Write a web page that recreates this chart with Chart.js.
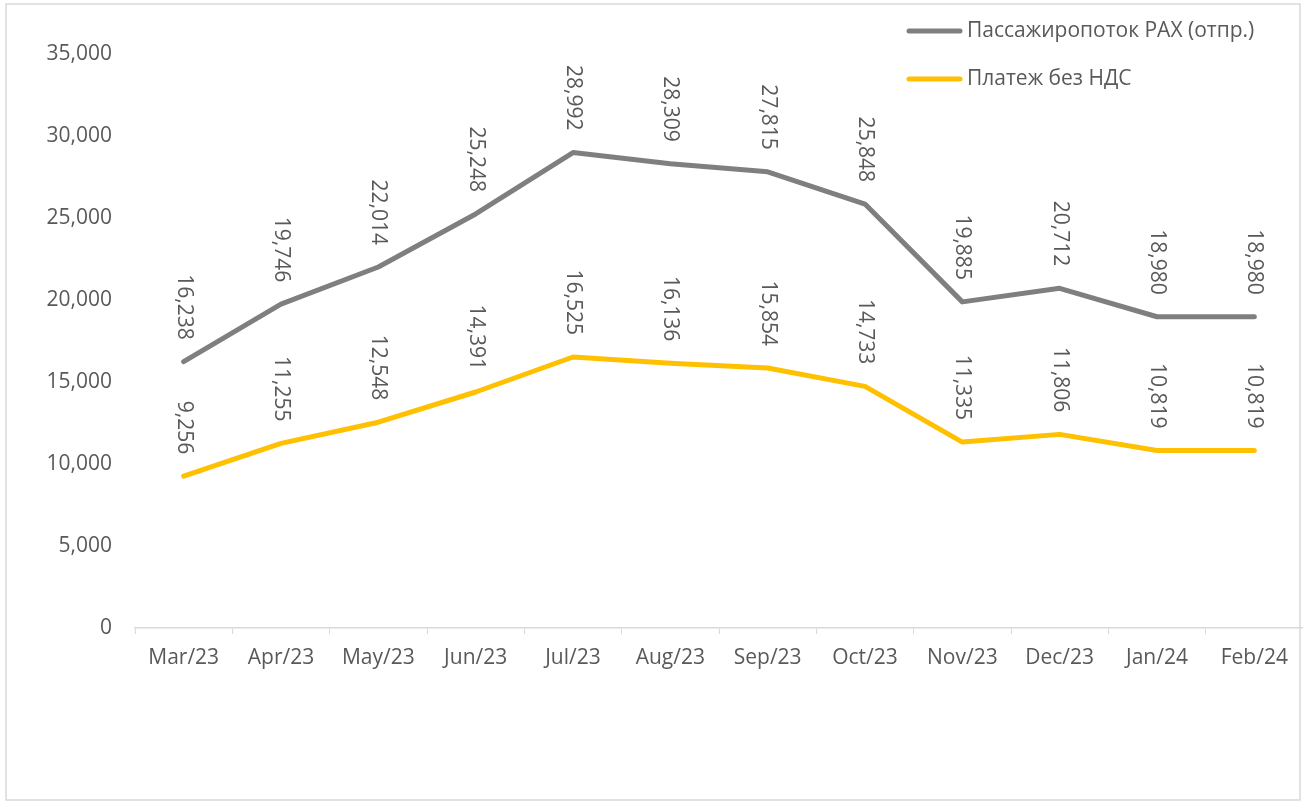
<!DOCTYPE html>
<html>
<head>
<meta charset="utf-8">
<script src="https://cdn.jsdelivr.net/npm/chart.js@4/dist/chart.umd.min.js"></script>
<style>
  html, body { margin: 0; padding: 0; background: #fff; }
  #wrap { width: 1303px; height: 803px; position: relative; }
</style>
</head>
<body>
<div id="wrap"><canvas id="chart" width="1303" height="803"></canvas></div>
<script>
const months = ['Mar/23','Apr/23','May/23','Jun/23','Jul/23','Aug/23','Sep/23','Oct/23','Nov/23','Dec/23','Jan/24','Feb/24'];
const paxValues = [16238, 19746, 22014, 25248, 28992, 28309, 27815, 25848, 19885, 20712, 18980, 18980];
const paymentValues = [9256, 11255, 12548, 14391, 16525, 16136, 15854, 14733, 11335, 11806, 10819, 10819];
const seriesNames = ['Пассажиропоток PAX (отпр.)', 'Платеж без НДС'];
const yTicks = [0, 5000, 10000, 15000, 20000, 25000, 30000, 35000];

const textColor = '#595959';
const fontFamily = '"Open Sans", "DejaVu Sans", sans-serif';
const fmt = v => v.toLocaleString('en-US');

// frame, rotated value labels and the legend drawn on top of the chart
const extras = {
  id: 'extras',
  afterDatasetsDraw(chart) {
    const ctx = chart.ctx;
    ctx.save();
    ctx.font = '21px ' + fontFamily;
    ctx.fillStyle = textColor;
    ctx.textAlign = 'left';
    ctx.textBaseline = 'middle';
    chart.data.datasets.forEach((ds, i) => {
      chart.getDatasetMeta(i).data.forEach((pt, j) => {
        ctx.save();
        ctx.translate(pt.x, pt.y - 22);
        ctx.rotate(Math.PI / 2);
        ctx.textAlign = 'right';
        ctx.fillText(fmt(ds.data[j]), 0, 0);
        ctx.restore();
      });
    });
    // legend
    chart.data.datasets.forEach((ds, i) => {
      const y = 31 + i * 48;
      ctx.strokeStyle = ds.borderColor;
      ctx.lineWidth = 5;
      ctx.lineCap = 'round';
      ctx.beginPath();
      ctx.moveTo(909, y);
      ctx.lineTo(960, y);
      ctx.stroke();
      ctx.fillText(ds.label, 967, y);
    });
    // outer frame
    ctx.strokeStyle = '#D9D9D9';
    ctx.lineWidth = 1.5;
    ctx.strokeRect(6, 4, 1294, 796);
    ctx.restore();
  }
};

new Chart(document.getElementById('chart'), {
  type: 'line',
  data: {
    labels: months,
    datasets: [
      { label: seriesNames[0], data: paxValues, borderColor: '#7F7F7F', borderWidth: 5, pointRadius: 0, tension: 0, borderJoinStyle: 'round', borderCapStyle: 'round' },
      { label: seriesNames[1], data: paymentValues, borderColor: '#FFC000', borderWidth: 5, pointRadius: 0, tension: 0, borderJoinStyle: 'round', borderCapStyle: 'round' }
    ]
  },
  options: {
    responsive: false,
    animation: false,
    layout: { padding: { left: 0, right: 0, top: 54, bottom: 0 } },
    plugins: { legend: { display: false }, tooltip: { enabled: false } },
    scales: {
      x: {
        offset: true,
        grid: { offset: true, drawOnChartArea: false, drawTicks: true, tickLength: 6, color: '#D9D9D9' },
        border: { display: true, color: '#D9D9D9', width: 1.5 },
        ticks: { color: textColor, font: { family: fontFamily, size: 21 }, padding: 11, maxRotation: 0 },
        afterFit: s => { s.height = 175; }
      },
      y: {
        min: 0,
        max: 35000,
        afterBuildTicks: s => { s.ticks = yTicks.map(v => ({ value: v })); },
        grid: { display: false, drawTicks: false },
        border: { display: false },
        ticks: { color: textColor, font: { family: fontFamily, size: 21 }, padding: 23, callback: v => fmt(v) },
        afterFit: s => { s.width = 135; }
      }
    }
  },
  plugins: [extras]
});
</script>
</body>
</html>
